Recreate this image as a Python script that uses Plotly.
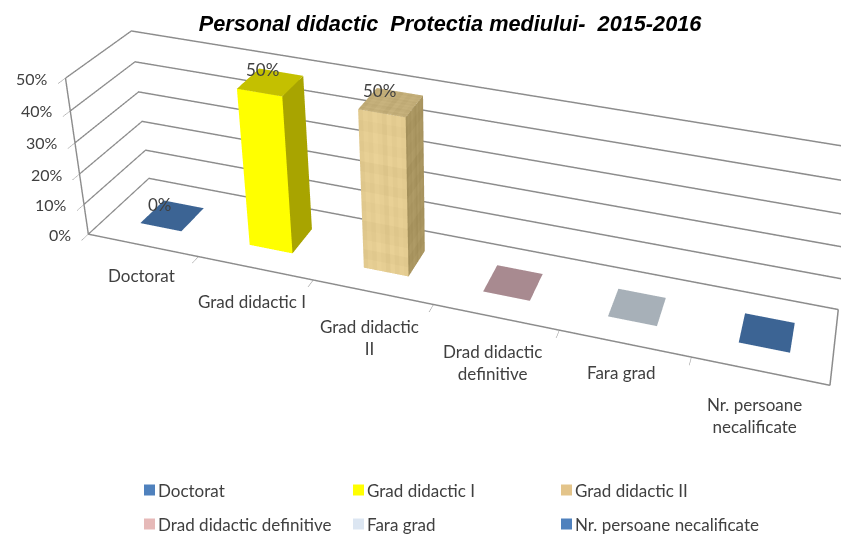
import plotly.graph_objects as go

categories = ["Doctorat", "Grad didactic I", "Grad didactic II", "Drad didactic definitive", "Fara grad", "Nr. persoane necalificate"]
axis_labels = ["Doctorat", "Grad didactic I", "Grad didactic<br>II", "Drad didactic<br>definitive", "Fara grad", "Nr. persoane<br>necalificate"]
label_dx = [-1, -3, -3, -3, -3, -5]
label_dy = [-18, -21, -22, -22, -17, -21]
values = [0, 50, 50, 0, 0, 0]
value_dx = [-12, -8, -11, 0, 0, 0]
value_dy = [11, 13, 12, 0, 0, 0]
z_ticks = [0, 10, 20, 30, 40, 50]
front_colors = ["#3c6494", "#ffff00", "#e3cb90", "#a88a90", "#a7b0b8", "#3c6494"]
side_colors = ["#3c6494", "#a8a400", "#a8945f", "#a88a90", "#a7b0b8", "#3c6494"]
top_colors = ["#3c6494", "#c4c000", "#c2ad78", "#a88a90", "#a7b0b8", "#3c6494"]
legend_colors = ["#4f81bd", "#ffff00", "#e3c48a", "#e6b9b8", "#dce6f2", "#4f81bd"]
legend_x = [144, 353, 561]
legend_y = [490, 524]
textured = [False, False, True, False, False, False]
# shade steps of the wood-like fill of the third bar
grain_columns = [-3, 2, -1, 4, 1, -4, 3, -2, 2, -1]
grain_rows = [2, -2, 3, -1, -3, 2, 0, 3, -2, 1, -3, 3, 0, 2, -2, 1]

FONT = "Lato"
TXT = "#404040"
GRID = "#8c8c8c"
BAR_W = 0.38
BAR_Y = (0.3, 0.7)
# The 3D canvas is larger than the 841x534 page, so that its lens centre falls where the reference's does.
W, H = 1130, 1034
TOP = 500


def py(y):
    return 1 - (y + TOP) / H


def shade(color, delta):
    rgb = [int(color[k:k + 2], 16) for k in (1, 3, 5)]
    return "rgb({},{},{})".format(*[max(0, min(255, c + delta)) for c in rgb])


fig = go.Figure()


def add_panel(mesh, origin, du, dv, color, grain):
    """Split one bar face into cells, with a shade for each cell."""
    nu, nv = (len(grain_columns), len(grain_rows)) if grain else (1, 1)
    start = len(mesh["x"])
    for b in range(nv + 1):
        for a in range(nu + 1):
            for key, n in zip("xyz", range(3)):
                mesh[key].append(origin[n] + du[n] * a / nu + dv[n] * b / nv)
    for b in range(nv):
        for a in range(nu):
            p = start + b * (nu + 1) + a
            q, r, s = p + 1, p + nu + 2, p + nu + 1
            col = shade(color, grain_columns[a] + grain_rows[b]) if grain else color
            mesh["i"] += [p, p]
            mesh["j"] += [q, r]
            mesh["k"] += [r, s]
            mesh["c"] += [col, col]


def box(cx, h, front, side, top, grain):
    x0, x1 = cx - BAR_W / 2, cx + BAR_W / 2
    y0, y1 = BAR_Y
    mesh = dict(x=[], y=[], z=[], i=[], j=[], k=[], c=[])
    add_panel(mesh, (x0, y0, 0), (x1 - x0, 0, 0), (0, 0, h), front, grain)
    add_panel(mesh, (x1, y0, 0), (0, y1 - y0, 0), (0, 0, h), side, grain)
    add_panel(mesh, (x0, y0, h), (x1 - x0, 0, 0), (0, y1 - y0, 0), top, grain)
    return go.Mesh3d(
        x=mesh["x"], y=mesh["y"], z=mesh["z"], i=mesh["i"], j=mesh["j"], k=mesh["k"],
        facecolor=mesh["c"], flatshading=True,
        lighting=dict(ambient=1, diffuse=0, specular=0, fresnel=0),
        hoverinfo="skip", showscale=False,
    )


for i, v in enumerate(values):
    fig.add_trace(box(i + 0.5, v, front_colors[i], side_colors[i], top_colors[i], textured[i]))

ann = []
for v in z_ticks:
    ann.append(dict(x=0, y=0, z=v, text=f"{v}%", showarrow=False, xanchor="right", yanchor="middle",
                    xshift=-15, font=dict(family=FONT, size=16, color=TXT)))
for i, lab in enumerate(axis_labels):
    ann.append(dict(x=i + 0.5, y=0, z=0, text=lab, showarrow=False, xanchor="center", yanchor="top",
                    xshift=label_dx[i], yshift=label_dy[i], font=dict(family=FONT, size=17, color=TXT)))
for i, v in enumerate(values):
    if v > 0 or i == 0:
        ann.append(dict(x=i + 0.5, y=0.5, z=v, text=f"{v}%", showarrow=False, xanchor="center", yanchor="middle",
                        xshift=value_dx[i], yshift=value_dy[i], font=dict(family=FONT, size=17, color=TXT)))

base_axis = dict(showbackground=False, showspikes=False, zeroline=False, title=dict(text=""),
                 showticklabels=False, showline=True, linecolor=GRID, linewidth=3)

shapes = []
paper_ann = []
for n, (name, col) in enumerate(zip(categories, legend_colors)):
    lx = legend_x[n % 3]
    ly = legend_y[n // 3]
    shapes.append(dict(type="rect", xref="paper", yref="paper",
                       x0=lx / W, x1=(lx + 11) / W, y0=py(ly + 5.5), y1=py(ly - 5.5),
                       fillcolor=col, line=dict(width=0)))
    paper_ann.append(dict(xref="paper", yref="paper", x=(lx + 12) / W, y=py(ly), text=name, showarrow=False,
                          xanchor="left", yanchor="middle", font=dict(family=FONT, size=17, color=TXT)))

fig.update_layout(
    width=W, height=H, margin=dict(l=0, r=0, t=0, b=0),
    paper_bgcolor="white", plot_bgcolor="white", showlegend=False,
    shapes=shapes, annotations=paper_ann,
    title=dict(text="Personal didactic  Protectia mediului-  2015-2016", x=450 / W, xanchor="center", y=py(23.5), yanchor="middle",
               font=dict(family="Liberation Sans", size=21.7, color="black", weight="bold", style="italic")),
    scene=dict(
        domain=dict(x=[0, 1], y=[0, 1]),
        aspectmode="manual", aspectratio=dict(x=1, y=0.1496, z=0.2399),
        camera=dict(eye=dict(x=0.4610, y=-1.2902, z=0.8852), center=dict(x=0.1306, y=0.0318, z=0.2582),
                    up=dict(x=-0.1386, y=0.3846, z=0.9126)),
        xaxis=dict(base_axis, range=[0, 6], tickvals=[1, 2, 3, 4, 5], ticks="outside", ticklen=6, tickcolor=GRID, showgrid=False),
        yaxis=dict(base_axis, range=[0, 1], showgrid=False, tickvals=[]),
        zaxis=dict(base_axis, range=[0, 50], tickvals=z_ticks, ticks="outside", ticklen=6, tickcolor=GRID, showgrid=True, gridcolor=GRID, gridwidth=3),
        annotations=ann,
    ),
)

fig.write_html("out.html", config=dict(displayModeBar=False), default_width=f"{W}px", default_height=f"{H}px",
               post_script=f"document.body.style.margin='0';document.body.style.marginTop='-{TOP}px';"
                           "document.documentElement.style.overflow='hidden';document.body.style.overflow='hidden';")
